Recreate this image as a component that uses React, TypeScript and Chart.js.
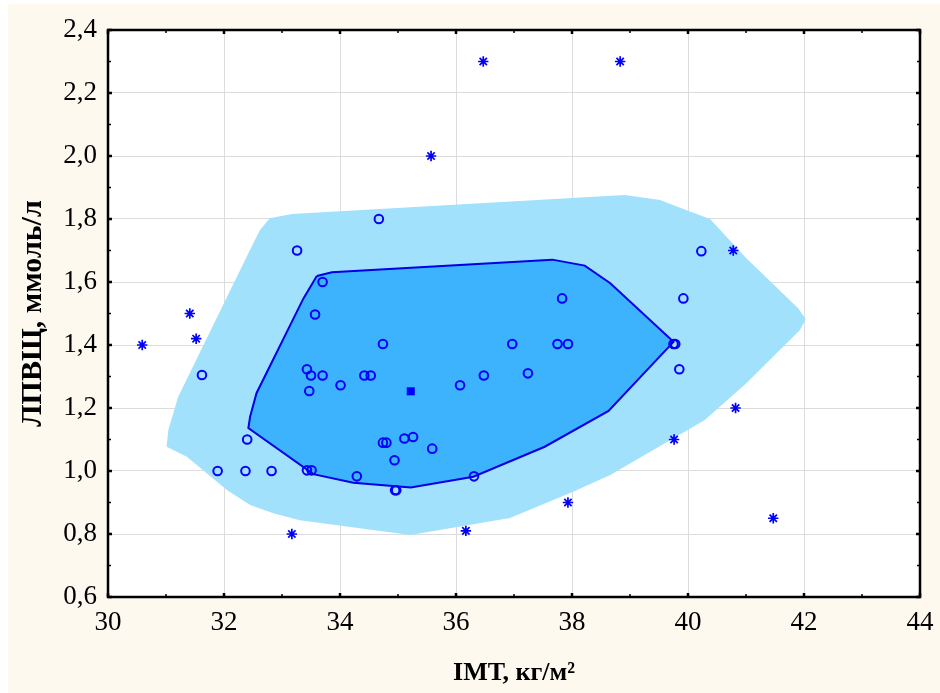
import React, { useEffect, useRef } from "react";
import { Chart, registerables } from "chart.js";

Chart.register(...registerables);

// Axis ticks
const X_TICKS = [30, 32, 34, 36, 38, 40, 42, 44];
const X_MINOR = [30, 31, 32, 33, 34, 35, 36, 37, 38, 39, 40, 41, 42, 43, 44];
const Y_TICKS = [0.6, 0.8, 1.0, 1.2, 1.4, 1.6, 1.8, 2.0, 2.2, 2.4];
const Y_MINOR = [0.6, 0.7, 0.8, 0.9, 1.0, 1.1, 1.2, 1.3, 1.4, 1.5, 1.6, 1.7, 1.8, 1.9, 2.0, 2.1, 2.2, 2.3, 2.4];

// Observations inside the fence (circles)
const POINTS_X = [31.62, 31.89, 32.37, 32.82, 32.40, 33.26, 33.43, 33.50, 33.70, 33.47, 34.01, 34.42, 34.53, 34.74, 33.57, 33.70, 34.67, 36.97, 37.75, 37.93, 37.83, 36.07, 36.48, 37.24, 34.74, 34.80, 35.11, 35.26, 35.59, 34.94, 33.43, 33.51, 34.29, 34.95, 34.97, 36.31, 40.23, 39.92, 39.75, 39.78, 39.85];
const POINTS_Y = [1.305, 1.0, 1.0, 1.0, 1.10, 1.70, 1.323, 1.303, 1.303, 1.254, 1.272, 1.303, 1.303, 1.403, 1.497, 1.60, 1.80, 1.403, 1.403, 1.403, 1.548, 1.272, 1.303, 1.310, 1.09, 1.09, 1.103, 1.108, 1.071, 1.034, 1.002, 1.002, 0.983, 0.939, 0.939, 0.983, 1.698, 1.548, 1.403, 1.403, 1.323];

// Outliers (asterisks)
const OUTLIERS_X = [30.59, 31.41, 31.52, 33.17, 35.57, 36.47, 38.83, 36.17, 37.93, 39.76, 40.78, 40.82, 41.47];
const OUTLIERS_Y = [1.40, 1.50, 1.42, 0.80, 2.00, 2.30, 2.30, 0.81, 0.90, 1.10, 1.70, 1.20, 0.85];

// Median
const MEDIAN_X = [35.22];
const MEDIAN_Y = [1.253];

// Bag polygon
const BAG_X = [33.60, 33.86, 37.66, 38.22, 38.66, 39.75, 38.63, 37.53, 36.30, 35.22, 34.23, 33.54, 32.42, 32.45, 32.56, 33.37];
const BAG_Y = [1.619, 1.631, 1.671, 1.652, 1.596, 1.41, 1.191, 1.077, 0.982, 0.948, 0.963, 0.99, 1.136, 1.172, 1.247, 1.548];

// Fence polygon
const FENCE_X = [32.79, 33.17, 38.91, 39.52, 39.75, 40.38, 41.01, 41.90, 42.03, 41.93, 41.01, 40.29, 38.66, 38.02, 36.93, 35.21, 33.31, 32.85, 32.45, 32.05, 31.36, 31.01, 31.04, 31.21, 32.45, 32.62];
const FENCE_Y = [1.802, 1.816, 1.876, 1.860, 1.844, 1.80, 1.675, 1.517, 1.482, 1.448, 1.279, 1.162, 0.987, 0.934, 0.851, 0.797, 0.844, 0.866, 0.892, 0.94, 1.045, 1.077, 1.13, 1.236, 1.702, 1.765];

const X_TITLE = "ІМТ, кг/м²";
const Y_TITLE = "ЛПВЩ, ммоль/л";

const toXY = (xs: number[], ys: number[]) => xs.map((x, i) => ({ x, y: ys[i] }));
const closed = (pts: { x: number; y: number }[]) => [...pts, pts[0]];

export default function App() {
  const ref = useRef<HTMLCanvasElement>(null);

  useEffect(() => {
    if (!ref.current) return;
    const framePlugin = {
      id: "frame",
      beforeDraw(chart: any) {
        const { ctx, chartArea: a } = chart;
        ctx.save();
        ctx.fillStyle = "#FDF9EF";
        ctx.fillRect(8, 4, chart.width - 8, chart.height - 4);
        ctx.fillStyle = "#ffffff";
        ctx.fillRect(a.left, a.top, a.right - a.left, a.bottom - a.top);
        ctx.restore();
      },
      afterDraw(chart: any) {
        const { ctx, chartArea: a, scales } = chart;
        const xs = scales.x;
        const ys = scales.y;
        ctx.save();
        ctx.strokeStyle = "#000";
        // minor ticks
        ctx.lineWidth = 1.5;
        ctx.beginPath();
        X_MINOR.forEach((v) => {
          const p = xs.getPixelForValue(v);
          ctx.moveTo(p, a.bottom);
          ctx.lineTo(p, a.bottom - 3);
          ctx.moveTo(p, a.top);
          ctx.lineTo(p, a.top + 3);
        });
        Y_MINOR.forEach((v) => {
          const p = ys.getPixelForValue(v);
          ctx.moveTo(a.left, p);
          ctx.lineTo(a.left + 3, p);
          ctx.moveTo(a.right, p);
          ctx.lineTo(a.right - 3, p);
        });
        ctx.stroke();
        // major ticks
        ctx.lineWidth = 2.5;
        ctx.beginPath();
        X_TICKS.forEach((v) => {
          const p = xs.getPixelForValue(v);
          ctx.moveTo(p, a.bottom);
          ctx.lineTo(p, a.bottom - 4);
          ctx.moveTo(p, a.top);
          ctx.lineTo(p, a.top + 4);
        });
        Y_TICKS.forEach((v) => {
          const p = ys.getPixelForValue(v);
          ctx.moveTo(a.left, p);
          ctx.lineTo(a.left + 4, p);
          ctx.moveTo(a.right, p);
          ctx.lineTo(a.right - 4, p);
        });
        ctx.stroke();
        // frame
        ctx.lineWidth = 2.5;
        ctx.strokeRect(a.left, a.top, a.right - a.left, a.bottom - a.top);
        ctx.restore();
      },
    };

    const tickFont = { family: "'Liberation Serif', 'Times New Roman', serif", size: 27 };
    const xTitleFont = { family: "'Liberation Serif', 'Times New Roman', serif", size: 26, weight: "bold" as const };
    const yTitleFont = { family: "'Liberation Serif', 'Times New Roman', serif", size: 30, weight: "bold" as const };

    const chart = new Chart(ref.current, {
      type: "scatter",
      data: {
        datasets: [
          {
            label: "median",
            data: toXY(MEDIAN_X, MEDIAN_Y),
            pointStyle: "rect",
            pointRadius: 5.7,
            backgroundColor: "#0000ff",
            borderColor: "#0000ff",
            borderWidth: 0,
            order: 0,
          },
          {
            label: "outliers",
            data: toXY(OUTLIERS_X, OUTLIERS_Y),
            pointStyle: "star",
            pointRadius: 5.2,
            borderColor: "#0000ff",
            backgroundColor: "#0000ff",
            borderWidth: 1.7,
            order: 1,
          },
          {
            label: "points",
            data: toXY(POINTS_X, POINTS_Y),
            pointStyle: "circle",
            pointRadius: 4.3,
            borderColor: "#0000ff",
            backgroundColor: "rgba(0,0,0,0)",
            borderWidth: 2,
            order: 2,
          },
          {
            label: "bag",
            data: closed(toXY(BAG_X, BAG_Y)),
            showLine: true,
            fill: "shape",
            pointRadius: 0,
            borderColor: "#0000e6",
            borderWidth: 2,
            backgroundColor: "#3DB3FE",
            tension: 0,
            order: 3,
          },
          {
            label: "fence",
            data: closed(toXY(FENCE_X, FENCE_Y)),
            showLine: true,
            fill: "shape",
            pointRadius: 0,
            borderWidth: 0,
            borderColor: "rgba(0,0,0,0)",
            backgroundColor: "#A2E1FC",
            tension: 0,
            order: 4,
          },
        ],
      },
      options: {
        responsive: false,
        animation: false,
        devicePixelRatio: 1,
        layout: { autoPadding: false, padding: { left: 0, right: 20, top: 30, bottom: 0 } },
        plugins: {
          legend: { display: false },
          tooltip: { enabled: false },
        },
        scales: {
          x: {
            type: "linear",
            min: 30,
            max: 44,
            afterBuildTicks: (s: any) => {
              s.ticks = X_TICKS.map((v) => ({ value: v }));
            },
            afterFit: (s: any) => {
              s.height = 96;
              s.paddingLeft = 0;
              s.paddingRight = 0;
            },
            ticks: {
              font: tickFont,
              color: "#000",
              padding: 10,
              maxRotation: 0,
              autoSkip: false,
              callback: (v: any) => String(v),
            },
            grid: { color: "#dcdcdc", lineWidth: 1, drawTicks: false },
            border: { display: false },
            title: {
              display: true,
              text: X_TITLE,
              font: xTitleFont,
              color: "#000",
              padding: { top: 0, bottom: 4 },
            },
          },
          y: {
            type: "linear",
            min: 0.6,
            max: 2.4,
            afterBuildTicks: (s: any) => {
              s.ticks = Y_TICKS.map((v) => ({ value: v }));
            },
            afterFit: (s: any) => {
              s.width = 108;
              s.paddingTop = 0;
              s.paddingBottom = 0;
            },
            ticks: {
              font: tickFont,
              color: "#000",
              padding: 11,
              autoSkip: false,
              callback: (v: any) => Number(v).toFixed(1).replace(".", ","),
            },
            grid: { color: "#dcdcdc", lineWidth: 1, drawTicks: false },
            border: { display: false },
            title: {
              display: true,
              text: Y_TITLE,
              font: yTitleFont,
              color: "#000",
              padding: { top: 15, bottom: 0 },
            },
          },
        },
      },
      plugins: [framePlugin],
    } as any);

    return () => chart.destroy();
  }, []);

  return (
    <div style={{ position: "absolute", left: 0, top: 0, width: 940, height: 693 }}>
      <canvas ref={ref} width={940} height={693} style={{ display: "block" }} />
    </div>
  );
}
